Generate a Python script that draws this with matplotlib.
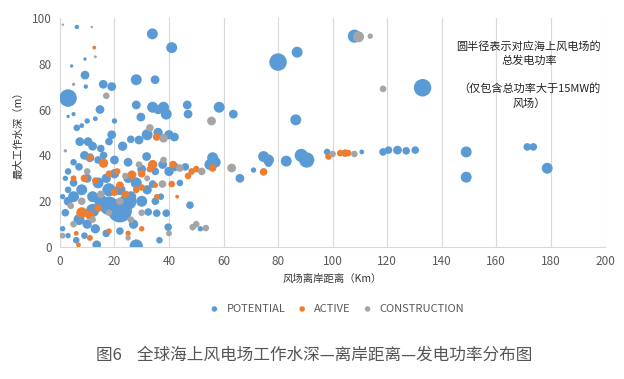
import matplotlib
matplotlib.use('Agg')
import matplotlib.pyplot as plt
import numpy as np

plt.rcParams['font.family'] = ['Noto Sans CJK SC', 'DejaVu Sans']

# données : (distance km, profondeur m, puissance MW)
potential = [
    (6.2, 96, 33), (4.3, 79, 20), (9.2, 82, 20), (33.9, 93, 207), (41, 87, 207),
    (80, 80.7, 530), (87, 85, 207), (9.2, 75, 133), (28, 73, 207), (34.9, 73, 133),
    (9.5, 70, 33), (15.9, 71, 133), (19, 70, 133), (3, 65, 530), (14.7, 60, 133),
    (28, 62, 133), (34, 61, 207), (38, 61, 207), (39, 58, 207), (36, 60, 150),
    (46.7, 62, 133), (47, 58, 133), (58.4, 61, 207), (63.6, 58, 133), (86.5, 55.5, 207),
    (29.7, 56.7, 133), (6.2, 52, 75), (10, 55, 50), (13, 56, 40), (5, 58, 30),
    (3, 57, 20), (20, 55, 50), (8, 53, 40), (32, 49, 207), (36, 50, 150),
    (40, 49, 150), (42, 48, 133), (29, 46.7, 133), (26, 47, 100), (19, 49, 133),
    (18, 46, 100), (23, 44, 150), (10.3, 46, 133), (7.3, 46, 133), (12, 44, 133),
    (15, 43, 100), (31.8, 39.5, 133), (37.7, 36, 133), (11, 39, 133), (9, 40, 133),
    (14, 38, 100), (5, 37, 75), (3, 33, 75), (7, 35, 100), (2, 30, 50),
    (46, 35, 100), (55, 36, 207), (56, 39, 207), (57, 37, 200), (66, 30, 133),
    (71, 33.6, 50), (74.7, 39.5, 207), (76.5, 38, 207), (76.5, 36.6, 100), (83, 37.5, 207),
    (90.5, 38, 407), (88.5, 40, 300), (34, 27.5, 100), (44, 28, 75), (47.7, 18.3, 100),
    (32.4, 15.3, 100), (35.5, 14.8, 100), (39, 14.8, 100), (39.7, 8.7, 100), (51.5, 8, 50),
    (36.5, 3, 75), (28, 0.5, 300), (13.5, 1, 133),
    (22, 16, 1000), (18, 18, 600), (25, 20, 500), (12, 16, 300),
    (15, 20, 300), (18, 25, 300), (12, 22, 207), (8, 25, 207),
    (5, 22, 207), (3, 20, 133), (2, 15, 100), (7, 12, 207), (10, 10, 150),
    (13, 8, 150), (17, 6, 100), (22, 7, 100), (27, 10, 150), (30, 20, 207),
    (32, 25, 150), (28, 28, 207), (25, 30, 150), (20, 32, 150), (17, 30, 150),
    (14, 28, 207), (10, 30, 133), (5, 28, 100), (3, 25, 75), (1, 22, 50),
    (1, 8, 50), (3, 5, 50), (6, 3, 75), (9, 5, 75), (26, 22, 207),
    (22, 25, 207), (35, 20, 100), (37, 22, 75), (40, 33, 150), (42, 35, 133),
    (35, 33, 100), (30, 34, 133), (25, 37, 133), (20, 38, 133), (16, 40, 100),
    (98, 41.5, 75), (110.7, 41.5, 40), (118.5, 41.5, 100), (120.5, 42.3, 100),
    (123.8, 42.3, 133), (127, 42, 100), (130.3, 42.3, 100), (108, 92, 300),
    (133, 69.5, 530), (149, 41.5, 207), (149, 30.5, 207), (171.4, 43.7, 100),
    (173.6, 43.7, 100), (178.7, 34.4, 207),
]

active = [
    (12.6, 87, 25), (35.5, 48, 100), (34, 36, 150), (16, 36.6, 150), (11, 39, 75),
    (26.4, 31.5, 133), (41.5, 36, 100), (48.3, 33, 75), (47, 31, 75), (56, 34.5, 100),
    (74.7, 32.8, 100), (41, 27.5, 75), (35.5, 22, 50), (43, 22, 25), (6.8, 1, 40),
    (98.5, 39.5, 75), (102.8, 41, 75), (104.6, 41, 100), (105.7, 41, 75), (8, 15, 207),
    (11, 14, 150), (14, 17, 100), (20, 24, 100), (24, 23, 100), (22, 27, 100),
    (28, 25, 75), (30, 26, 75), (9, 30, 100), (5, 30, 60), (13, 29, 75),
    (18, 32, 75), (21, 33, 75), (30, 32, 100), (33, 34, 75), (18, 7, 50),
    (25, 6, 50), (11, 4, 60), (6, 6, 40), (30, 8, 50), (35, 27, 50), (50, 34, 75),
]

construction = [
    (1.1, 97, 10), (11.7, 96, 10), (13, 83, 15), (17, 66, 75), (55.6, 55, 133),
    (33, 52, 100), (38, 47.5, 133), (37.6, 27.5, 100), (44, 34.5, 100), (52, 33, 100),
    (63, 34.5, 133), (38, 38, 75), (48.7, 8.7, 75), (50, 10, 75), (53.5, 8.3, 75),
    (109.5, 91.7, 207), (113.8, 92, 50), (118.5, 69, 75), (100, 40.6, 75), (108, 40.6, 75),
    (8, 20, 100), (4, 18, 75), (15, 23, 100), (22, 20, 100), (26, 12, 75),
    (18, 15, 75), (12, 12, 75), (5, 10, 75), (1, 5, 60), (30, 15, 75),
    (24, 31, 75), (10, 33, 75), (29, 36, 75), (32, 30, 60), (40, 6, 60),
    (25, 4, 50), (2, 42, 20), (5, 71, 20),
]

series = [
    ('POTENTIAL', potential, '#5B9BD5'),
    ('ACTIVE', active, '#ED7D31'),
    ('CONSTRUCTION', construction, '#A5A5A5'),
]

fig = plt.figure(figsize=(6.24, 3.79), dpi=100)
ax = fig.add_axes([0.096, 0.348, 0.874, 0.605])

for nom, data, couleur in series:
    d = np.array(data)
    ax.scatter(d[:, 0], d[:, 1], s=d[:, 2] * 0.3, color=couleur,
               edgecolors='none', label=nom, zorder=3)

ax.set_xlim(0, 200)
ax.set_ylim(0, 100)
ax.set_xticks(np.arange(0, 201, 20))
ax.set_yticks(np.arange(0, 101, 20))
ax.grid(axis='x', color='#D9D9D9', linewidth=0.8, zorder=0)
for s in ['top', 'right']:
    ax.spines[s].set_visible(False)
for s in ['left', 'bottom']:
    ax.spines[s].set_color('#D9D9D9')
ax.tick_params(length=0, labelsize=8.5, colors='#595959', pad=6)

ax.set_xlabel('风场离岸距离（Km）', fontsize=7.5, color='#333333', labelpad=4)
ax.set_ylabel('最大工作水深（m）', fontsize=7.5, color='#333333', labelpad=6)

ax.text(172, 90, '圆半径表示对应海上风电场的\n总发电功率\n\n（仅包含总功率大于15MW的\n风场）',
        ha='center', va='top', fontsize=8, color='#222222', linespacing=1.45)

leg = fig.legend(loc='center', bbox_to_anchor=(0.535, 0.185), ncol=3, frameon=False,
                 fontsize=8, handletextpad=0.1, columnspacing=0.5, markerscale=1)
for h in leg.legend_handles:
    h.set_sizes([16])
for t in leg.get_texts():
    t.set_color('#595959')

fig.text(0.503, 0.063, '图6    全球海上风电场工作水深—离岸距离—发电功率分布图',
         ha='center', va='center', fontsize=12, color='#555555')

fig.savefig('out.png', dpi=100)
